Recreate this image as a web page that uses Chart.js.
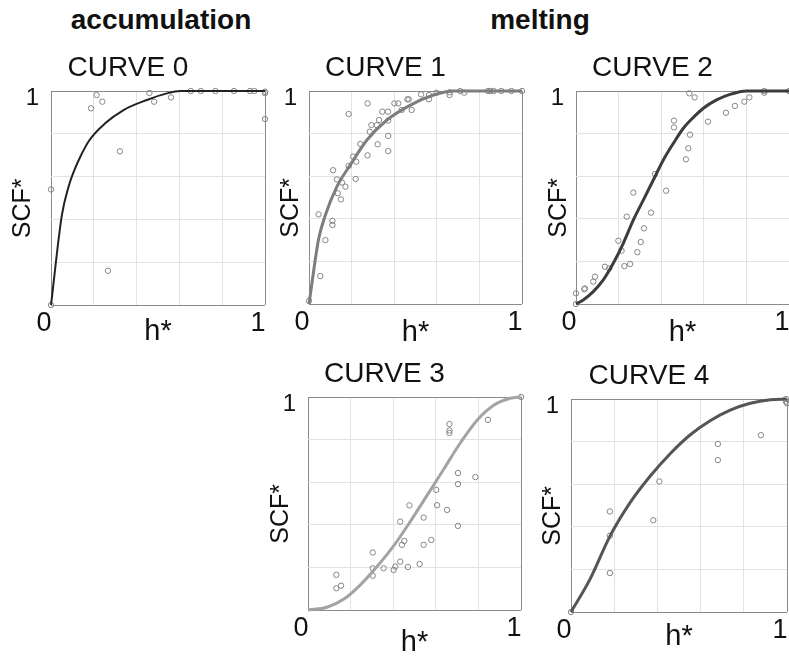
<!DOCTYPE html>
<html>
<head>
<meta charset="utf-8">
<script src="https://cdn.jsdelivr.net/npm/chart.js@4"></script>
<style>
  html, body { margin: 0; padding: 0; background: #fff; overflow: hidden; width: 789px; height: 656px; }
  canvas { position: absolute; }
  .hdr { position: absolute; top: 6px; font: bold 28px "Liberation Sans", Arial, sans-serif; line-height: 28px; color: #111; transform: translateX(-50%); white-space: nowrap; }
</style>
</head>
<body>
<div class="hdr" style="left:161px">accumulation</div>
<div class="hdr" style="left:540px">melting</div>
<script>
// panel titles
const titles = ['CURVE 0', 'CURVE 1', 'CURVE 2', 'CURVE 3', 'CURVE 4'];

// observed points [h*, SCF*]
const obs0 = [[0,0],[0,0.54],[0.187,0.919],[0.213,0.981],[0.24,0.95],[0.266,0.16],[0.322,0.718],
  [0.46,0.991],[0.482,0.95],[0.561,0.97],[0.653,1],[0.7,1],[0.768,1],[0.855,1],[0.93,1],[0.95,1],
  [1,0.997],[1,0.99],[1,0.869]];
const obs1 = [[0,0.015],[0.045,0.421],[0.053,0.131],[0.077,0.3],[0.11,0.39],[0.11,0.371],[0.113,0.628],
  [0.131,0.585],[0.135,0.52],[0.15,0.491],[0.155,0.57],[0.171,0.551],[0.186,0.648],[0.186,0.892],
  [0.207,0.692],[0.219,0.587],[0.222,0.668],[0.241,0.751],[0.275,0.942],[0.275,0.698],[0.285,0.809],
  [0.293,0.84],[0.319,0.839],[0.322,0.75],[0.329,0.864],[0.344,0.903],[0.371,0.903],[0.372,0.861],
  [0.372,0.789],[0.372,0.718],[0.401,0.942],[0.419,0.942],[0.435,0.911],[0.462,0.961],[0.468,0.961],
  [0.482,0.911],[0.526,0.984],[0.563,0.981],[0.563,0.961],[0.598,0.992],[0.66,0.994],[0.66,0.981],
  [0.71,1],[0.729,0.992],[0.84,1],[0.851,1],[0.867,1],[0.903,1],[0.95,1],[1,1]];
const obs2 = [[0,0.05],[0,0],[0.039,0.069],[0.042,0.073],[0.081,0.105],[0.089,0.128],[0.136,0.175],
  [0.156,0.167],[0.199,0.297],[0.214,0.25],[0.227,0.178],[0.238,0.41],[0.254,0.188],[0.269,0.523],
  [0.288,0.243],[0.304,0.291],[0.319,0.355],[0.352,0.429],[0.371,0.61],[0.423,0.532],[0.46,0.861],
  [0.46,0.829],[0.516,0.679],[0.527,0.731],[0.532,0.989],[0.535,0.795],[0.557,0.97],[0.62,0.856],
  [0.704,0.898],[0.746,0.93],[0.79,0.95],[0.814,0.97],[0.884,1],[0.884,0.992],[1,1]];
const obs3 = [[0.133,0.165],[0.133,0.102],[0.155,0.114],[0.304,0.27],[0.304,0.196],[0.304,0.161],
  [0.355,0.196],[0.402,0.188],[0.41,0.204],[0.433,0.227],[0.433,0.415],[0.441,0.306],[0.452,0.324],
  [0.469,0.202],[0.476,0.491],[0.524,0.216],[0.543,0.306],[0.543,0.434],[0.579,0.329],[0.602,0.564],
  [0.606,0.492],[0.653,0.47],[0.664,0.873],[0.664,0.843],[0.664,0.831],[0.704,0.643],[0.704,0.591],
  [0.704,0.395],[0.786,0.624],[0.845,0.893],[1,1]];
const obs4 = [[0,0],[0.18,0.472],[0.18,0.358],[0.18,0.183],[0.381,0.431],[0.409,0.613],[0.68,0.789],
  [0.68,0.713],[0.879,0.83],[0.995,1],[0.995,0.988],[1,0.98]];

// fitted curves [h*, SCF*]
const fit0 = [[0,0],[0.051,0.421],[0.082,0.553],[0.103,0.615],[0.137,0.693],[0.18,0.771],[0.253,0.849],
  [0.339,0.911],[0.448,0.958],[0.541,0.989],[0.603,1],[1,1]];
const fit1 = [[0,0],[0.045,0.304],[0.077,0.418],[0.131,0.551],[0.194,0.653],[0.272,0.77],[0.366,0.864],
  [0.476,0.934],[0.585,0.981],[0.679,1],[1,1]];
const fit2 = [[0,0],[0.034,0.019],[0.081,0.058],[0.128,0.113],[0.175,0.191],[0.222,0.285],[0.269,0.394],
  [0.316,0.488],[0.363,0.582],[0.41,0.676],[0.457,0.754],[0.504,0.825],[0.551,0.876],[0.598,0.919],
  [0.66,0.958],[0.723,0.984],[0.801,1],[1,1]];
const fit3 = [[0,0],[0.089,0.013],[0.167,0.05],[0.246,0.118],[0.324,0.204],[0.402,0.301],[0.48,0.415],
  [0.559,0.538],[0.637,0.661],[0.715,0.784],[0.793,0.89],[0.872,0.961],[0.95,0.994],[1,1]];
const fit4 = [[0,0],[0.087,0.152],[0.18,0.355],[0.272,0.511],[0.365,0.636],[0.458,0.742],[0.551,0.831],
  [0.644,0.898],[0.737,0.948],[0.83,0.98],[0.923,0.997],[1,1]];

const observed = [obs0, obs1, obs2, obs3, obs4];
const fits = [fit0, fit1, fit2, fit3, fit4];

// plot boxes in page pixels and per-panel label offsets
const panels = [
  { l: 51,  t: 91,  w: 214, h: 214, line: '#222222', lw: 2,   yPad: 19.5, xPad: 19 },
  { l: 309, t: 91,  w: 213, h: 213, line: '#7d7d7d', lw: 3,   yPad: 29.5, xPad: 17 },
  { l: 576, t: 91,  w: 213, h: 213, line: '#3c3c3c', lw: 3,   yPad: 30.5, xPad: 17 },
  { l: 308, t: 397, w: 213, h: 213, line: '#a3a3a3', lw: 3,   yPad: 20.5, xPad: 13 },
  { l: 571, t: 399, w: 216, h: 213, line: '#555555', lw: 3,   yPad: 29.5, xPad: 21 }
];

const FONT = '"Liberation Sans", Arial, sans-serif';
const frameColor = '#8a8a8a';
const gridColor = '#e2e2e2';
const isEdge = v => Math.abs(v) < 1e-9 || Math.abs(v - 1) < 1e-9;
const toXY = arr => arr.map(([x, y]) => ({ x, y }));

panels.forEach((p, i) => {
  const canvas = document.createElement('canvas');
  canvas.width = p.w + 80;
  canvas.height = p.h + 120;
  canvas.style.left = (p.l - 60) + 'px';
  canvas.style.top = (p.t - 60) + 'px';
  document.body.appendChild(canvas);

  new Chart(canvas, {
    type: 'scatter',
    data: {
      datasets: [
        {
          type: 'line',
          data: toXY(fits[i]),
          borderColor: p.line,
          borderWidth: p.lw,
          pointRadius: 0,
          cubicInterpolationMode: 'monotone',
          fill: false,
          clip: false
        },
        {
          data: toXY(observed[i]),
          pointRadius: 2.7,
          borderWidth: 1,
          borderColor: '#858585',
          backgroundColor: 'rgba(0,0,0,0)',
          clip: false
        }
      ]
    },
    options: {
      responsive: false,
      animation: false,
      events: [],
      layout: { padding: { left: 0, top: 0, right: 20, bottom: 0 } },
      plugins: {
        legend: { display: false },
        tooltip: { enabled: false },
        title: {
          display: true,
          text: titles[i],
          color: '#111',
          font: { family: FONT, size: 28, weight: 'normal', lineHeight: 1 },
          padding: { top: 23.5, bottom: 8.5 }
        }
      },
      scales: {
        x: {
          type: 'linear', min: 0, max: 1,
          border: { display: false },
          grid: { drawTicks: false, color: c => isEdge(c.tick.value) ? frameColor : gridColor },
          ticks: {
            stepSize: 0.2, autoSkip: false, maxRotation: 0,
            padding: 5, labelOffset: -7, color: '#111',
            font: { family: FONT, size: 27, lineHeight: 1 },
            callback: v => Math.abs(v) < 1e-9 ? '0' : (Math.abs(v - 1) < 1e-9 ? '1' : '')
          },
          title: {
            display: true, text: 'h*', color: '#111',
            font: { family: FONT, size: 29, lineHeight: 1 },
            padding: { top: 0, bottom: p.xPad }
          },
          afterFit: s => { s.height = 60; s.paddingLeft = 0; s.paddingRight = 0; }
        },
        y: {
          type: 'linear', min: 0, max: 1,
          border: { display: false },
          grid: { drawTicks: false, color: c => isEdge(c.tick.value) ? frameColor : gridColor },
          ticks: {
            stepSize: 0.2, autoSkip: false,
            padding: 12, labelOffset: 7, color: '#111',
            font: { family: FONT, size: 24, lineHeight: 1 },
            callback: v => Math.abs(v - 1) < 1e-9 ? '1' : ''
          },
          title: {
            display: true, text: 'SCF*   ', color: '#111',
            font: { family: FONT, size: 25, lineHeight: 1 },
            padding: { top: p.yPad, bottom: 0 }
          },
          afterFit: s => { s.width = 60; s.paddingTop = 0; s.paddingBottom = 0; }
        }
      }
    }
  });
});
</script>
</body>
</html>
